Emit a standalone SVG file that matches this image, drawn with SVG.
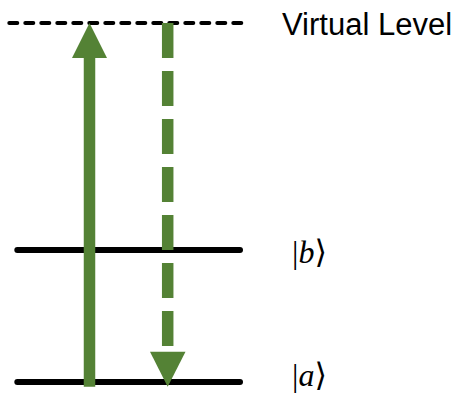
<svg xmlns="http://www.w3.org/2000/svg" width="458" height="398" viewBox="0 0 458 398">
<style>
.level{stroke:#000;stroke-width:6;stroke-linecap:round;fill:none}
.virtual{stroke:#000;stroke-width:4;stroke-linecap:round;stroke-dasharray:8 8;fill:none}
.shaft{stroke:#548235;stroke-width:11.5;fill:none}
.head{fill:#548235}
.lbl{font-family:"Liberation Sans",Arial,sans-serif;font-size:31px;fill:#000}
.ket{font-family:"Liberation Serif","DejaVu Serif",serif;font-size:32px;fill:#000}
</style>
<g id="level-virtual">
<line class="virtual" x1="9.3" y1="23" x2="241.3" y2="23"/>
<text class="lbl" x="282" y="35">Virtual Level</text>
</g>
<g id="level-b">
<line class="level" x1="17.3" y1="250" x2="240" y2="250"/>
<text class="ket" x="292" y="263">|<tspan font-style="italic">b</tspan>⟩</text>
</g>
<g id="level-a">
<line class="level" x1="17.3" y1="382" x2="240" y2="382"/>
<text class="ket" x="292" y="386">|<tspan font-style="italic">a</tspan>⟩</text>
</g>
<g id="connectors">
<g id="excitation">
<line class="shaft" x1="89.5" y1="57" x2="89.5" y2="386.7"/>
<polygon class="head" points="89.5,23 107,58 72,58"/>
</g>
<g id="emission">
<line class="shaft" x1="167.7" y1="23" x2="167.7" y2="346" stroke-dasharray="35 13"/>
<polygon class="head" points="150,351.7 185.5,351.7 167.7,386.7"/>
</g>
</g>
</svg>
